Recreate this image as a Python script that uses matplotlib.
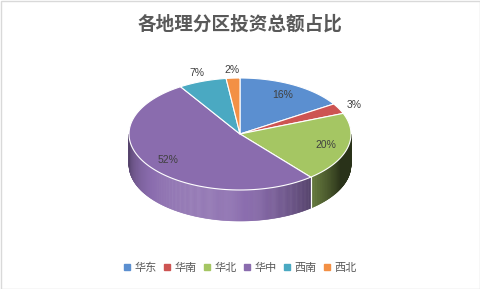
import numpy as np
import matplotlib
matplotlib.use("Agg")
import matplotlib.pyplot as plt
from matplotlib.patches import Polygon, Rectangle
from matplotlib.lines import Line2D
import matplotlib.colors as mcolors

plt.rcParams['font.family'] = ['Noto Sans CJK SC', 'DejaVu Sans']

title = "各地理分区投资总额占比"
regions = ["华东", "华南", "华北", "华中", "西南", "西北"]
shares = [16, 3, 20, 52, 7, 2]
colors = ["#5B8FD0", "#CD5452", "#A5C663", "#8A6CAE", "#4AA9C2", "#F39045"]
label_outside = [False, True, False, False, True, True]

W, H = 481, 289
fig = plt.figure(figsize=(W / 100, H / 100), dpi=100)
ax = fig.add_axes([0, 0, 1, 1])
ax.set_xlim(0, W)
ax.set_ylim(H, 0)
ax.axis("off")

# figure border
ax.add_patch(Rectangle((0.5, 0.5), W - 1, H - 1, fill=False, ec="#D9D9D9", lw=1))

cx, cy, a, b, depth = 240, 134, 111, 56, 31


def pt(t, r=1.0, dy=0.0):
    t = np.radians(t)
    return cx + a * r * np.sin(t), cy - b * r * np.cos(t) + dy


def shade(c, f):
    rgb = np.array(mcolors.to_rgb(c))
    if f >= 1:
        return tuple(rgb + (1 - rgb) * (f - 1))
    return tuple(rgb * f)


vals = np.array(shares, dtype=float)
bounds = np.concatenate([[0], np.cumsum(vals) / vals.sum() * 360])

# side faces (front half only: 90..270)
for i, c in enumerate(colors):
    t0, t1 = max(bounds[i], 90), min(bounds[i + 1], 270)
    if t1 <= t0:
        continue
    ts = np.linspace(t0, t1, max(2, int((t1 - t0) * 2) + 1))
    for s0, s1 in zip(ts[:-1], ts[1:]):
        tm = (s0 + s1) / 2
        f = 0.25 + 0.85 * np.cos(np.radians(tm - 205)) if abs(tm - 205) < 90 else 0.25
        if tm < 150:
            f = min(f, 0.25 + 0.55 * (tm - 90) / 60)
        col = shade(c, f)
        x0, y0 = pt(s0)
        x1, y1 = pt(s1)
        ax.add_patch(Polygon([(x0, y0), (x1, y1), (x1, y1 + depth), (x0, y0 + depth)],
                             closed=True, fc=col, ec=col, lw=0.4))
    for tb in (bounds[i], bounds[i + 1]):
        if 90 < tb < 270:
            x, y = pt(tb)
            ax.plot([x, x], [y, y + depth], color="white", lw=0.8)

# top faces
for i, c in enumerate(colors):
    ts = np.linspace(bounds[i], bounds[i + 1], 100)
    poly = [(cx, cy)] + [pt(t) for t in ts]
    ax.add_patch(Polygon(poly, closed=True, fc=c, ec="white", lw=0.8, joinstyle="round"))

# data labels
for i, v in enumerate(shares):
    mid = (bounds[i] + bounds[i + 1]) / 2
    r = 1.15 if label_outside[i] else 0.8
    x, y = pt(mid, r)
    ax.text(x, y, f"{v}%", ha="center", va="center", fontsize=7.5,
            color="#404040", family=["Liberation Sans", "DejaVu Sans"])

ax.text(240, 24, title, ha="center", va="center", fontsize=13.4, fontweight="bold",
        color="#595959")

handles = [Line2D([], [], ls="none", marker="s", markersize=4, mfc=c, mec=c) for c in colors]
fig.legend(handles, regions, loc="center", bbox_to_anchor=(240 / W, 1 - 268 / H), ncol=6,
           frameon=False, fontsize=8, handlelength=0.6, handletextpad=0.4,
           columnspacing=0.6, labelcolor="#595959")

fig.savefig("out.png", dpi=100)
